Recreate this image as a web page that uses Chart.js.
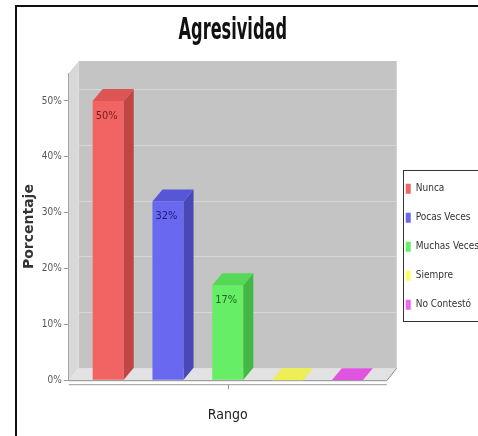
<!DOCTYPE html>
<html>
<head>
<meta charset="utf-8">
<script src="https://cdn.jsdelivr.net/npm/chart.js@4.4.1/dist/chart.umd.min.js"></script>
<style>
  html, body { margin: 0; padding: 0; background: #fff; overflow: hidden; }
  #frame { position: absolute; left: 15px; top: 5px; width: 480px; height: 440px;
           border-left: 2px solid #111; border-top: 2px solid #111; }
  canvas { display: block; }
</style>
</head>
<body>
<div id="frame"><canvas id="chart" width="480" height="430"></canvas></div>
<script>
// Chart data
const categories = ['Nunca', 'Pocas Veces', 'Muchas Veces', 'Siempre', 'No Contestó'];
const percentages = [50, 32, 17, 0, 0];
const yTicks = [0, 10, 20, 30, 40, 50];
const yMax = 55;

// Colours per series: front face, top face, side face, value label
const frontColors = ['#f26464', '#6868f0', '#66ee66', '#ffff66', '#f066f0'];
const topColors = ['#dc5454', '#5656d6', '#55d855', '#eeee55', '#e055e0'];
const sideColors = ['#c04646', '#4848b8', '#44b844', '#d0d044', '#c044c0'];
const labelColors = ['#7a1c1c', '#1c1c7a', '#1c6a1c', '#666600', '#661c66'];

const NARROW = "'Liberation Sans Narrow', 'DejaVu Sans Condensed', 'Arial Narrow', sans-serif";
const DX = 10;  // 3D depth, x
const DY = 12;  // 3D depth, y
const TITLE_SQUEEZE = 0.6;  // the original title font is very condensed

function fillPoly(ctx, pts, color) {
    ctx.beginPath();
    ctx.moveTo(pts[0][0], pts[0][1]);
    for (let i = 1; i < pts.length; i++) ctx.lineTo(pts[i][0], pts[i][1]);
    ctx.closePath();
    ctx.fillStyle = color;
    ctx.fill();
}

// Fake 3D walls, bar faces, value labels and the legend frame
const threeD = {
    id: 'threeD',
    beforeDraw(chart) {
        // squeeze the title horizontally, centred between plot and legend
        const tb = chart.titleBlock;
        if (tb && !tb.squeezed) {
            const draw = tb.draw.bind(tb);
            tb.draw = function () {
                const ctx = chart.ctx;
                const c0 = (tb.left + tb.right) / 2;
                const target = (chart.chartArea.left + chart.legend.left) / 2 + DX / 2;
                ctx.save();
                ctx.translate(target, 0);
                ctx.scale(TITLE_SQUEEZE, 1);
                ctx.translate(-c0, 0);
                draw();
                ctx.restore();
            };
            tb.squeezed = true;
        }
    },
    beforeDatasetsDraw(chart) {
        const { ctx, chartArea: a, scales: { y } } = chart;
        ctx.save();
        // back wall
        ctx.fillStyle = '#c4c4c4';
        ctx.fillRect(a.left + DX, a.top - DY, a.right - a.left, a.bottom - a.top);
        // grid lines on the back wall
        ctx.strokeStyle = '#d6d6d6';
        ctx.lineWidth = 1;
        yTicks.forEach(v => {
            const py = Math.round(y.getPixelForValue(v) - DY) + 0.5;
            ctx.beginPath();
            ctx.moveTo(a.left + DX, py);
            ctx.lineTo(a.right + DX, py);
            ctx.stroke();
        });
        // left wall
        fillPoly(ctx, [[a.left, a.top], [a.left + DX, a.top - DY], [a.left + DX, a.bottom - DY], [a.left, a.bottom]], '#d8d8d8');
        // floor
        fillPoly(ctx, [[a.left, a.bottom], [a.left + DX, a.bottom - DY], [a.right + DX, a.bottom - DY], [a.right, a.bottom]], '#e2e2e2');
        // floor edges
        ctx.strokeStyle = '#8a8a8a';
        ctx.beginPath();
        ctx.moveTo(a.left, a.bottom + 0.5);
        ctx.lineTo(a.right, a.bottom + 0.5);
        ctx.lineTo(a.right + DX, a.bottom - DY);
        ctx.stroke();
        // x axis line and its centre tick
        const xs = chart.scales.x;
        const tx = Math.round(xs.getPixelForTick(0)) + 0.5;
        ctx.strokeStyle = '#9a9a9a';
        ctx.beginPath();
        ctx.moveTo(a.left, a.bottom + 4.5);
        ctx.lineTo(a.right, a.bottom + 4.5);
        ctx.moveTo(tx, a.bottom + 4.5);
        ctx.lineTo(tx, a.bottom + 9);
        ctx.stroke();
        ctx.restore();
    },
    afterDatasetsDraw(chart) {
        const { ctx } = chart;
        ctx.save();
        chart.data.datasets.forEach((ds, i) => {
            const bar = chart.getDatasetMeta(i).data[0];
            const l = bar.x - bar.width / 2;
            const r = bar.x + bar.width / 2;
            const t = bar.y;
            const b = bar.base;
            // side face
            fillPoly(ctx, [[r, t], [r + DX, t - DY], [r + DX, b - DY], [r, b]], sideColors[i]);
            // top face
            fillPoly(ctx, [[l, t], [l + DX, t - DY], [r + DX, t - DY], [r, t]], topColors[i]);
            // value label
            const v = ds.data[0];
            if (v > 0) {
                ctx.fillStyle = labelColors[i];
                ctx.font = '11px ' + NARROW;
                ctx.textBaseline = 'middle';
                ctx.textAlign = 'left';
                ctx.fillText(v + '%', l + 3, t + 15);
            }
        });
        ctx.restore();
    },
    afterDraw(chart) {
        const lg = chart.legend;
        if (!lg || !lg.legendHitBoxes.length) return;
        const hb = lg.legendHitBoxes;
        const first = hb[0];
        const last = hb[hb.length - 1];
        const { ctx } = chart;
        ctx.save();
        ctx.strokeStyle = '#333';
        ctx.lineWidth = 1;
        const x = Math.round(first.left - 3) + 0.5;
        const top = Math.round(first.top - 14) + 0.5;
        const bottom = Math.round(last.top + last.height + 11) + 0.5;
        ctx.strokeRect(x, top, chart.width - x - 1, bottom - top);
        ctx.restore();
    }
};

new Chart(document.getElementById('chart'), {
    type: 'bar',
    data: {
        labels: [''],
        datasets: categories.map((name, i) => ({
            label: name,
            data: [percentages[i]],
            backgroundColor: frontColors[i],
            borderWidth: 0,
            categoryPercentage: 0.94,
            barPercentage: 0.52
        }))
    },
    options: {
        responsive: false,
        devicePixelRatio: 1,
        animation: false,
        layout: { padding: { left: 2, right: 8, bottom: 13 } },
        plugins: {
            title: {
                display: true,
                text: 'Agresividad',
                color: '#111',
                font: { family: NARROW, size: 30, weight: 'bold' },
                padding: { top: 6, bottom: 24 }
            },
            legend: {
                position: 'right',
                title: { display: true, text: '', font: { size: 12 }, padding: { top: 0, bottom: 48 } },
                labels: {
                    boxWidth: 5,
                    boxHeight: 10,
                    padding: 19,
                    color: '#333',
                    font: { family: NARROW, size: 10 }
                }
            },
            tooltip: { enabled: false }
        },
        scales: {
            x: {
                grid: { display: false },
                border: { display: false },
                ticks: { display: false },
                title: {
                    display: true,
                    text: 'Rango',
                    color: '#222',
                    font: { family: NARROW, size: 14 },
                    padding: { top: 19, bottom: 0 }
                }
            },
            y: {
                min: 0,
                max: yMax,
                afterBuildTicks: scale => { scale.ticks = yTicks.map(v => ({ value: v })); },
                grid: { drawOnChartArea: false, color: '#999', tickLength: 5 },
                border: { color: '#999' },
                ticks: {
                    color: '#555',
                    font: { family: NARROW, size: 10 },
                    padding: 2,
                    callback: v => v + '%'
                },
                title: {
                    display: true,
                    text: 'Porcentaje',
                    color: '#333',
                    font: { family: "'DejaVu Sans', sans-serif", size: 14, weight: 'bold' },
                    padding: 2
                }
            }
        }
    },
    plugins: [threeD]
});
</script>
</body>
</html>
